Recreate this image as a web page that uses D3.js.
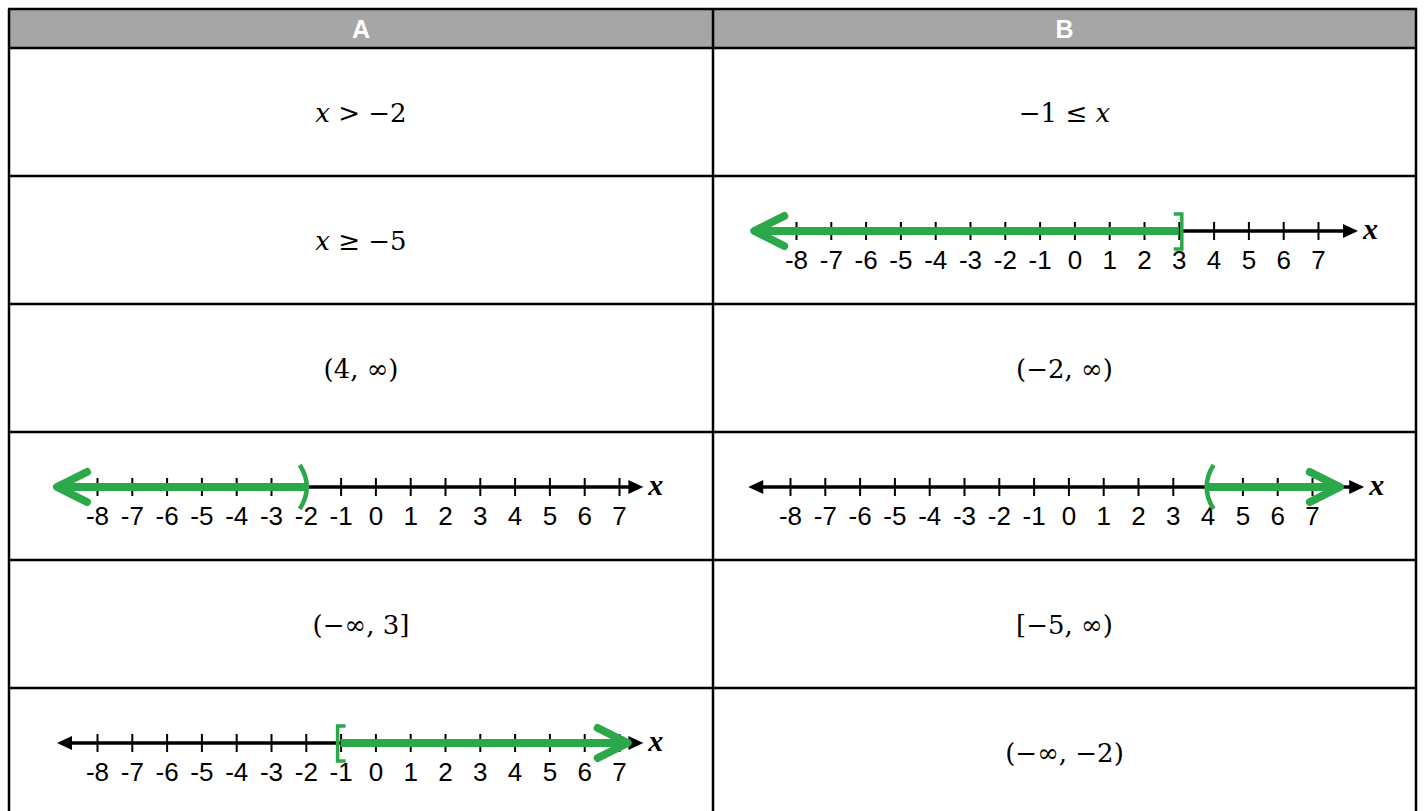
<!DOCTYPE html>
<html>
<head>
<meta charset="utf-8">
<script src="https://cdn.jsdelivr.net/npm/d3@7"></script>
<style>
  body { margin: 0; background: #fff; }
  svg { display: block; }
</style>
</head>
<body>
<svg id="chart" width="1425" height="811"></svg>
<script>
/*global d3*/

// ---- data ----
var columns = ["A", "B"];

var tickValues = [-8, -7, -6, -5, -4, -3, -2, -1, 0, 1, 2, 3, 4, 5, 6, 7];
var tickLabels = ["-8", "-7", "-6", "-5", "-4", "-3", "-2", "-1", "0", "1", "2", "3", "4", "5", "6", "7"];

// a cell is either a math expression or a number line with a green ray
// axis = where the black arrow tips sit, in number-line units
var cellsA = [
    { type: "text", text: "x > −2" },
    { type: "text", text: "x ≥ −5" },
    { type: "text", text: "(4, ∞)" },
    { type: "line", from: -2, to: -9.15, end: "open", axis: [-9.15, 7.7] },
    { type: "text", text: "(−∞, 3]" },
    { type: "line", from: -1, to: 7.25, end: "closed", axis: [-9.15, 7.7] }
];

var cellsB = [
    { type: "text", text: "−1 ≤ x" },
    { type: "line", from: 3, to: -9.2, end: "closed", axis: [-9.2, 8.15] },
    { type: "text", text: "(−2, ∞)" },
    { type: "line", from: 4, to: 7.8, end: "open", axis: [-9.2, 8.5] },
    { type: "text", text: "[−5, ∞)" },
    { type: "text", text: "(−∞, −2)" }
];

// ---- layout ----
var svg = d3.select("#chart");
var green = "#2ba84a";

var tableLeft = 9, tableRight = 1416, divider = 713;
var headerTop = 9, headerBottom = 48, rowHeight = 128;
var colX = [tableLeft, divider];
var colW = [divider - tableLeft, tableRight - divider];
// where -8 sits inside each number-line cell (the pasted pictures differ a bit)
var lineOffset = [[0, 0, 0, 88, 0, 88], [0, 83, 0, 77, 0, 0]];
var lineSpan = 522;

// header
svg.append("rect")
    .attr("x", tableLeft)
    .attr("y", headerTop - 1)
    .attr("width", tableRight - tableLeft)
    .attr("height", headerBottom - headerTop + 1)
    .attr("fill", "#a6a6a6");

svg.selectAll("text.head")
    .data(columns)
    .enter()
        .append("text")
        .attr("class", "head")
        .attr("x", function (d, i) { return colX[i] + colW[i] / 2; })
        .attr("y", 38)
        .attr("text-anchor", "middle")
        .style("font-family", "'Liberation Sans Narrow', 'Liberation Sans', sans-serif")
        .style("font-weight", "bold")
        .style("font-size", "25px")
        .attr("fill", "#fff")
        .text(function (d) { return d; });

// cells
var columnsData = [cellsA, cellsB];

columnsData.forEach(function (cells, c) {
    cells.forEach(function (cell, r) {
        var top = headerBottom + r * rowHeight;
        var g = svg.append("g");

        if (cell.type === "text") {
            drawMath(g, cell.text, colX[c] + colW[c] / 2, top + rowHeight / 2 + 10);
        } else {
            var x0 = colX[c] + lineOffset[c][r];
            drawNumberLine(g, cell, x0, top + 55);
        }
    });
});

// grid lines
var hLines = [headerTop, headerBottom];
for (var r = 1; r <= 6; r++) hLines.push(headerBottom + r * rowHeight);

svg.selectAll("line.h")
    .data(hLines)
    .enter()
        .append("line")
        .attr("x1", tableLeft - 1)
        .attr("x2", tableRight + 1)
        .attr("y1", function (d) { return d; })
        .attr("y2", function (d) { return d; })
        .attr("stroke", "#000")
        .attr("stroke-width", 2.5);

svg.selectAll("line.v")
    .data([tableLeft, divider, tableRight])
    .enter()
        .append("line")
        .attr("x1", function (d) { return d; })
        .attr("x2", function (d) { return d; })
        .attr("y1", headerTop)
        .attr("y2", 811)
        .attr("stroke", "#000")
        .attr("stroke-width", 2.5);

function drawMath(g, str, cx, baseline) {
    var t = g.append("text")
        .attr("x", cx)
        .attr("y", baseline)
        .attr("text-anchor", "middle")
        .style("font-family", "'DejaVu Serif', serif")
        .style("font-size", "26px")
        .attr("fill", "#000");

    // italic x, everything else upright
    str.split(/(x)/).forEach(function (part) {
        if (part === "") return;
        t.append("tspan")
            .style("font-style", part === "x" ? "italic" : "normal")
            .text(part);
    });
}

function drawNumberLine(g, cell, x0, y) {
    var xScale = d3.scaleLinear()
        .domain([tickValues[0], tickValues[tickValues.length - 1]])
        .range([x0, x0 + lineSpan]);

    var left = xScale(cell.axis[0]), right = xScale(cell.axis[1]);

    // black axis line with filled arrowheads
    g.append("line")
        .attr("x1", left + 8).attr("x2", right - 8)
        .attr("y1", y).attr("y2", y)
        .attr("stroke", "#000")
        .attr("stroke-width", 3.5);

    g.append("path")
        .attr("d", "M" + left + "," + y + "L" + (left + 15) + "," + (y - 7) + "L" + (left + 15) + "," + (y + 7) + "Z")
        .attr("fill", "#000");
    g.append("path")
        .attr("d", "M" + right + "," + y + "L" + (right - 15) + "," + (y - 7) + "L" + (right - 15) + "," + (y + 7) + "Z")
        .attr("fill", "#000");

    // ticks and labels through d3 axis
    var axis = g.append("g")
        .attr("transform", "translate(0," + y + ")")
        .call(d3.axisBottom(xScale)
            .tickValues(tickValues)
            .tickFormat(function (d, i) { return tickLabels[i]; })
            .tickSizeOuter(0));

    axis.select(".domain").remove();
    axis.selectAll(".tick line")
        .attr("y1", -9)
        .attr("y2", 9)
        .attr("stroke", "#000")
        .attr("stroke-width", 2);
    axis.selectAll(".tick text")
        .attr("y", 38)
        .attr("dy", null)
        .attr("fill", "#000")
        .style("font-family", "'Liberation Sans', Arial, sans-serif")
        .style("font-size", "26px");

    // x label
    g.append("text")
        .attr("x", right + 5)
        .attr("y", y + 8)
        .style("font-family", "'Liberation Serif', serif")
        .style("font-style", "italic")
        .style("font-weight", "bold")
        .style("font-size", "30px")
        .attr("fill", "#000")
        .text("x");

    // green ray
    var xs = xScale(cell.from), xt = xScale(cell.to);
    var dir = xt > xs ? 1 : -1;

    g.append("line")
        .attr("x1", xs).attr("x2", xt - dir * 3)
        .attr("y1", y).attr("y2", y)
        .attr("stroke", green)
        .attr("stroke-width", 8);

    g.append("path")
        .attr("d", "M" + (xt - dir * 30) + "," + (y - 15) + "L" + xt + "," + y + "L" + (xt - dir * 30) + "," + (y + 15))
        .attr("fill", "none")
        .attr("stroke", green)
        .attr("stroke-width", 8)
        .attr("stroke-linecap", "round")
        .attr("stroke-linejoin", "round");

    // endpoint: bracket when closed, parenthesis when open
    // the mark opens toward the shaded side
    if (cell.end === "closed") {
        var bx = xs - dir * 3;
        g.append("path")
            .attr("d", "M" + (bx + dir * 8) + "," + (y - 17) + "L" + bx + "," + (y - 17) +
                "L" + bx + "," + (y + 18) + "L" + (bx + dir * 8) + "," + (y + 18))
            .attr("fill", "none")
            .attr("stroke", green)
            .attr("stroke-width", 3.5);
    } else {
        var px = xs + dir * 2;
        g.append("path")
            .attr("d", "M" + (px + dir * 4) + "," + (y - 22) + "Q" + (px - dir * 10) + "," + y + " " + (px + dir * 4) + "," + (y + 22))
            .attr("fill", "none")
            .attr("stroke", green)
            .attr("stroke-width", 4.5);
    }
}
</script>
</body>
</html>
